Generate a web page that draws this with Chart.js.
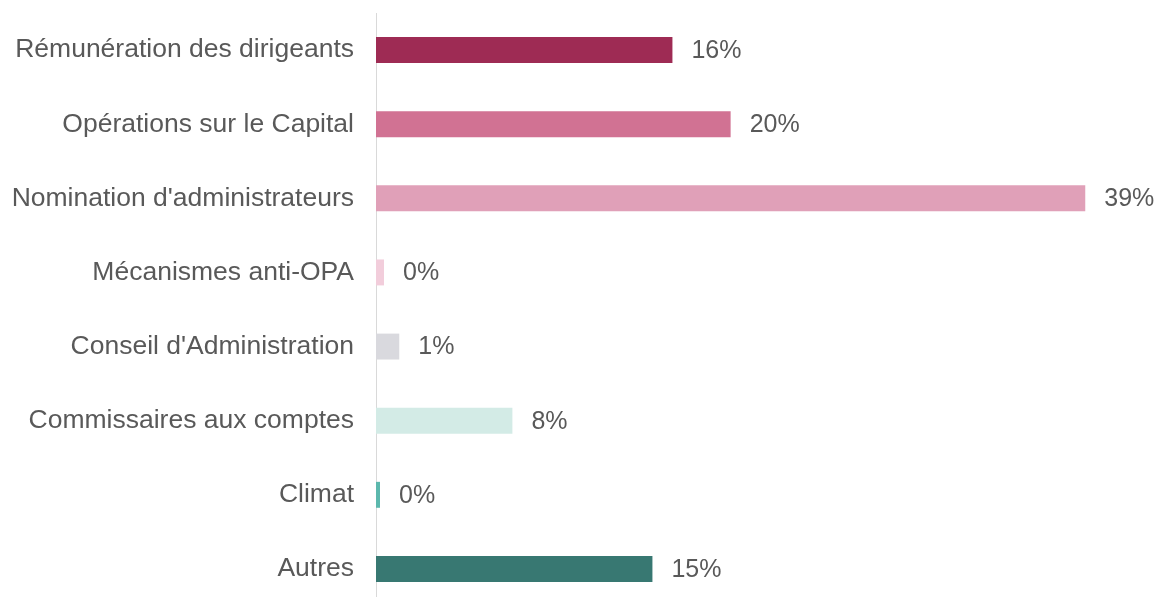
<!DOCTYPE html>
<html>
<head>
<meta charset="utf-8">
<script src="https://cdn.jsdelivr.net/npm/chart.js@4"></script>
<style>
  html, body { margin: 0; padding: 0; background: #fff; overflow: hidden; }
  #wrap { position: relative; width: 1162px; height: 606px; }
</style>
</head>
<body>
<div id="wrap"><canvas id="chart"></canvas></div>
<script>
const categories = [
  'Rémunération des dirigeants',
  'Opérations sur le Capital',
  "Nomination d'administrateurs",
  'Mécanismes anti-OPA',
  "Conseil d'Administration",
  'Commissaires aux comptes',
  'Climat',
  'Autres'
];
const values = [16.3, 19.5, 39, 0.44, 1.28, 7.5, 0.22, 15.2];
const valueLabels = ['16%', '20%', '39%', '0%', '1%', '8%', '0%', '15%'];
const colors = ['#9e2b54', '#d17293', '#e0a0b8', '#f2cddb', '#d9d9de', '#d3ebe6', '#5cb8ad', '#387872'];

const FONT = '"Liberation Sans", Arial, sans-serif';
const TEXT = '#595959';

const valueLabelPlugin = {
  id: 'valueLabels',
  afterDatasetsDraw(chart) {
    const ctx = chart.ctx;
    const meta = chart.getDatasetMeta(0);
    ctx.save();
    ctx.font = '25px ' + FONT;
    ctx.fillStyle = TEXT;
    ctx.textAlign = 'left';
    ctx.textBaseline = 'middle';
    meta.data.forEach((bar, i) => {
      ctx.fillText(valueLabels[i], bar.x + 19, bar.y + 1);
    });
    ctx.restore();
  }
};

const context = document.querySelector('#chart').getContext('2d');
new Chart(context, {
  type: 'bar',
  data: {
    labels: categories,
    datasets: [{
      data: values,
      backgroundColor: colors,
      borderWidth: 0,
      barPercentage: 0.7,
      categoryPercentage: 0.5
    }]
  },
  options: {
    indexAxis: 'y',
    responsive: true,
    maintainAspectRatio: false,
    animation: false,
    layout: { padding: { top: 13, right: 4, bottom: 0, left: 0 } },
    plugins: {
      legend: { display: false },
      tooltip: { enabled: false }
    },
    scales: {
      x: {
        display: false,
        min: 0,
        max: 43
      },
      y: {
        afterFit(scale) {
          scale.width = 376;
          scale.paddingTop = 0;
          scale.paddingBottom = 0;
        },
        grid: { display: false, drawTicks: false },
        border: { display: true, color: '#d9d9d9', width: 1 },
        ticks: {
          padding: 22,
          color: TEXT,
          font: { family: FONT, size: 26.5 }
        }
      }
    }
  },
  plugins: [valueLabelPlugin]
});
</script>
</body>
</html>
